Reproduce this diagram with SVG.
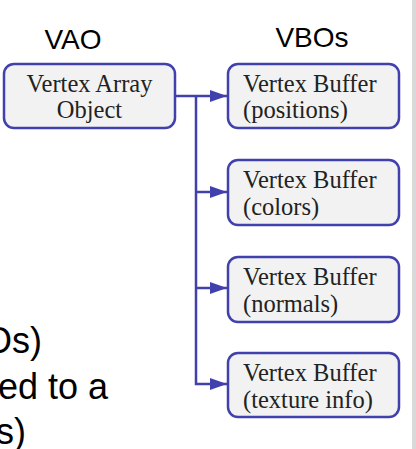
<svg xmlns="http://www.w3.org/2000/svg" width="416" height="449" viewBox="0 0 416 449">
<style>
.box{fill:#f2f2f2;stroke:#4141ad;stroke-width:2.5}
.lbl{font-family:"Liberation Serif","Times New Roman",serif;font-size:24.5px;fill:#222}
.hdr{font-family:"Liberation Sans",Arial,sans-serif;font-size:28px;fill:#000}
.bg{font-family:"Liberation Sans",Arial,sans-serif;font-size:36px;fill:#000}
.con{fill:none;stroke:#4141ad;stroke-width:2.5}
</style>
<defs>
<marker id="arr" markerUnits="userSpaceOnUse" markerWidth="18" markerHeight="12" refX="17" refY="6" orient="auto">
<path d="M0,0 L17,6 L0,12 Z" fill="#4141ad"/>
</marker>
</defs>
<rect x="0" y="0" width="416" height="449" fill="#fff"/>
<rect x="412" y="0" width="4" height="449" fill="#d9d9d9"/>
<g id="background-text">
<text class="bg" x="42" y="353" text-anchor="end">Os)</text>
<text class="bg" x="108" y="399" text-anchor="end">ed to a</text>
<text class="bg" x="26" y="444" text-anchor="end">s)</text>
</g>
<g id="title-vao"><text class="hdr" x="73" y="49" text-anchor="middle">VAO</text></g>
<g id="title-vbos"><text class="hdr" x="312" y="47" text-anchor="middle">VBOs</text></g>
<g id="connectors">
<path class="con" d="M175,96 H227" marker-end="url(#arr)"/>
<path class="con" d="M196,96 V384 H227" marker-end="url(#arr)"/>
<path class="con" d="M196,192 H227" marker-end="url(#arr)"/>
<path class="con" d="M196,288 H227" marker-end="url(#arr)"/>
</g>
<g id="vao">
<rect class="box" x="4" y="64" width="171" height="64" rx="10"/>
<text class="lbl" x="89.5" y="92" text-anchor="middle">Vertex Array</text>
<text class="lbl" x="89.5" y="118" text-anchor="middle">Object</text>
</g>
<g id="vbo-positions">
<rect class="box" x="228" y="64" width="171" height="64" rx="10"/>
<text class="lbl" x="243" y="92">Vertex Buffer</text>
<text class="lbl" x="243" y="118">(positions)</text>
</g>
<g id="vbo-colors">
<rect class="box" x="228" y="160" width="171" height="65" rx="10"/>
<text class="lbl" x="243" y="188">Vertex Buffer</text>
<text class="lbl" x="243" y="215">(colors)</text>
</g>
<g id="vbo-normals">
<rect class="box" x="228" y="257" width="171" height="65" rx="10"/>
<text class="lbl" x="243" y="285">Vertex Buffer</text>
<text class="lbl" x="243" y="312">(normals)</text>
</g>
<g id="vbo-texture">
<rect class="box" x="228" y="353" width="171" height="64" rx="10"/>
<text class="lbl" x="243" y="381">Vertex Buffer</text>
<text class="lbl" x="243" y="408">(texture info)</text>
</g>
</svg>
